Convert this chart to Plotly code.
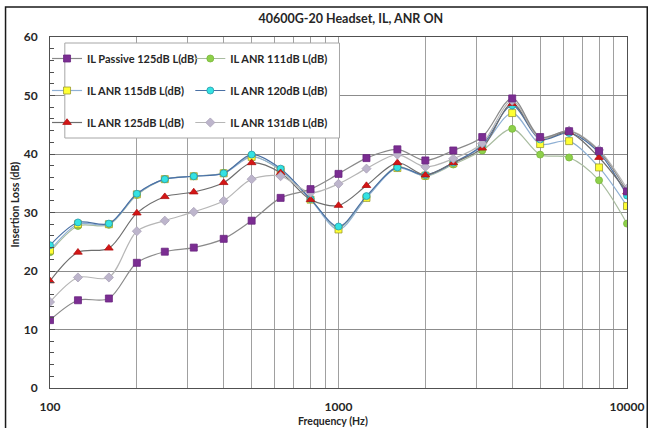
import plotly.graph_objects as go

# One-third octave band centre frequencies (Hz)
freq = [100, 125, 160, 200, 250, 315, 400, 500, 630, 800, 1000,
        1250, 1600, 2000, 2500, 3150, 4000, 5000, 6300, 8000, 10000]

# Insertion loss (dB) per band
il_passive_125 = [11.6, 15.0, 15.3, 21.4, 23.3, 24.0, 25.5, 28.6, 32.5, 34.0, 36.6,
                  39.3, 40.8, 38.9, 40.6, 42.9, 49.5, 42.9, 43.9, 40.5, 33.6]
il_anr_111 = [23.2, 27.7, 27.9, 33.0, 35.7, 36.2, 36.8, 39.6, 37.2, 32.3, 27.4,
              32.6, 37.8, 36.2, 38.2, 40.6, 44.3, 39.9, 39.4, 35.5, 28.1]
il_anr_115 = [23.5, 28.0, 28.0, 33.1, 35.7, 36.2, 36.7, 39.5, 37.3, 32.2, 27.1,
              32.5, 37.6, 36.3, 38.4, 41.3, 47.0, 41.7, 42.2, 37.7, 31.1]
il_anr_120 = [24.4, 28.3, 28.1, 33.2, 35.7, 36.2, 36.7, 39.9, 37.5, 32.3, 27.6,
              32.8, 37.7, 36.4, 38.5, 41.5, 48.3, 42.5, 43.6, 40.2, 32.9]
il_anr_125 = [18.3, 23.2, 23.9, 29.9, 32.7, 33.5, 35.1, 38.5, 36.8, 32.2, 31.2,
              34.6, 38.5, 36.4, 38.5, 41.0, 48.6, 42.7, 43.7, 39.4, 33.5]
il_anr_131 = [14.7, 18.9, 18.9, 26.8, 28.6, 30.1, 32.0, 35.7, 36.2, 33.4, 34.9,
              37.5, 39.9, 37.8, 39.2, 41.8, 49.1, 42.7, 44.0, 40.7, 34.1]

# Log-axis grid positions and their labels
grid_vals = [100, 200, 300, 400, 500, 600, 700, 800, 900,
             1000, 2000, 3000, 4000, 5000, 6000, 7000, 8000, 9000, 10000]
grid_text = ["100"] + [""] * 8 + ["1000"] + [""] * 8 + ["10000"]

FONT = "Lato"
TXT = "#262626"

series = [
    # name, values, marker symbol, fill, outline, line colour, legend, rank
    ("IL ANR 111dB L(dB)", il_anr_111, "circle", "#8ed04a", "#78b83a", "#a9bca0", "legend2", 2),
    ("IL ANR 115dB L(dB)", il_anr_115, "square", "#ffff33", "#9a9a30", "#8fb0d4", "legend", 3),
    ("IL ANR 120dB L(dB)", il_anr_120, "circle", "#33e3e3", "#2a98a8", "#4a70a4", "legend2", 4),
    ("IL ANR 125dB L(dB)", il_anr_125, "triangle-up", "#d41616", "#b01010", "#6e6e6e", "legend", 5),
    ("IL ANR 131dB L(dB)", il_anr_131, "diamond", "#bdb5cc", "#a9a2b8", "#b6b6b6", "legend2", 6),
    ("IL Passive 125dB L(dB)", il_passive_125, "square", "#7b2d92", "#6a2480", "#8a8a8a", "legend", 1),
]

fig = go.Figure()
for name, vals, sym, fill, edge, lcol, leg, rank in series:
    fig.add_trace(go.Scatter(
        x=freq, y=vals, name=name, mode="lines+markers",
        line=dict(color=lcol, width=1.2, shape="spline", smoothing=0.9),
        marker=dict(symbol=sym, size=7 if sym != "triangle-up" else 7.5,
                    color=fill, line=dict(color=edge, width=0.8)),
        legend=leg, legendgroup=name, legendrank=rank,
    ))

PX_W, PX_H = 656, 428
ML, MR, MT, MB = 50, 22, 37, 40
pw, ph = PX_W - ML - MR, PX_H - MT - MB


def px(xp):
    return (xp - ML) / pw


def py(yp):
    return (PX_H - MB - yp) / ph


legend_common = dict(
    bgcolor="rgba(0,0,0,0)", borderwidth=0,
    font=dict(family=FONT, size=11, color=TXT, weight="bold"),
    tracegroupgap=13, orientation="v", xanchor="left", yanchor="top",
)

fig.update_layout(
    width=PX_W, height=PX_H,
    margin=dict(l=ML, r=MR, t=MT, b=MB),
    paper_bgcolor="white", plot_bgcolor="white",
    showlegend=True,
    title=dict(text="<b>40600G-20 Headset, IL, ANR ON</b>",
               font=dict(family=FONT, size=12.5, color=TXT),
               x=342 / PX_W, xanchor="center", xref="paper",
               y=1 - 19 / PX_H, yanchor="middle"),
    legend=dict(x=px(47), y=py(44), **legend_common),
    legend2=dict(x=px(192), y=py(44), **legend_common),
    xaxis=dict(
        type="log", range=[2, 4],
        tickvals=grid_vals, ticktext=grid_text,
        showgrid=True, gridcolor="#a0a0a0", gridwidth=1,
        showline=True, linecolor="#505050", linewidth=1, mirror=True,
        ticks="", ticklabelstandoff=8,
        tickfont=dict(family=FONT, size=12, color=TXT, weight="bold"),
        zeroline=False,
    ),
    yaxis=dict(
        range=[0, 60], dtick=10,
        showgrid=True, gridcolor="#8c8c8c", gridwidth=1,
        showline=True, linecolor="#505050", linewidth=1, mirror=True,
        ticks="inside", ticklen=5, tickcolor="#505050",
        minor=dict(dtick=2, ticks="inside", ticklen=4, tickcolor="#505050", showgrid=False),
        ticklabelstandoff=9,
        tickfont=dict(family=FONT, size=12, color=TXT, weight="bold"),
        zeroline=False,
    ),
    annotations=[
        dict(text="<b>Frequency (Hz)</b>", xref="paper", yref="paper",
             x=px(336), y=py(421), xanchor="center", yanchor="middle",
             showarrow=False, font=dict(family=FONT, size=10.5, color=TXT)),
        dict(text="<b>Insertion Loss (dB)</b>", xref="paper", yref="paper",
             x=px(15), y=py(204), xanchor="center", yanchor="middle", textangle=-90,
             showarrow=False, font=dict(family=FONT, size=10.5, color=TXT)),
    ],
    shapes=[
        # legend panel
        dict(type="rect", xref="paper", yref="paper", layer="above",
             x0=px(65), x1=px(343), y0=py(138), y1=py(43),
             fillcolor="white", line=dict(color="#a6a6a6", width=1)),
        # outer chart frame
        dict(type="rect", xref="paper", yref="paper", layer="above",
             x0=px(5), x1=px(654.5), y0=py(440), y1=py(7),
             fillcolor="rgba(0,0,0,0)", line=dict(color="#1a1a1a", width=1.5)),
    ],
)

fig.write_html("out.html")
